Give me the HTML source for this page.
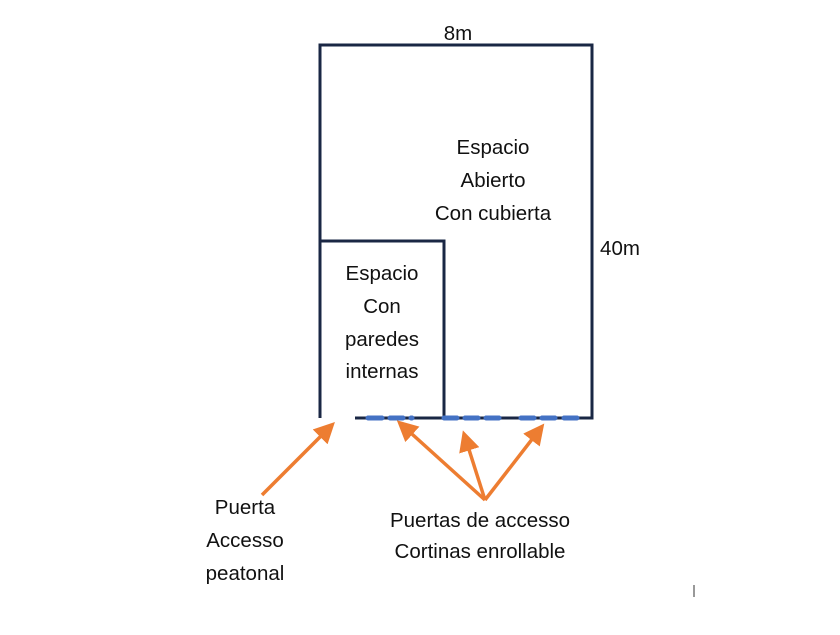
<!DOCTYPE html>
<html><head><style>body{margin:0;background:#fff}svg text{font-family:"Liberation Sans",sans-serif;font-size:20.5px;fill:#111;text-anchor:middle}</style></head>
<body>
<svg width="840" height="630" viewBox="0 0 840 630" xmlns="http://www.w3.org/2000/svg">
<defs><marker id="a" markerWidth="6" markerHeight="6" refX="4" refY="3" orient="auto" markerUnits="strokeWidth"><path d="M0,0 L6,3 L0,6 Z" fill="#ed7d31"/></marker></defs>
<g stroke="#1a2744" stroke-width="3" fill="none">
<polyline points="320,418 320,45 592,45 592,418 355,418"/>
<polyline points="320,241 444,241 444,418"/>
</g>
<g stroke="#4472c4" stroke-width="5" stroke-linecap="round">
<line x1="368" y1="418" x2="382" y2="418"/><line x1="390" y1="418" x2="403" y2="418"/><line x1="411" y1="418" x2="412" y2="418"/>
<line x1="444" y1="418" x2="457" y2="418"/><line x1="465" y1="418" x2="478" y2="418"/><line x1="486" y1="418" x2="499" y2="418"/>
<line x1="521" y1="418" x2="534" y2="418"/><line x1="542" y1="418" x2="555" y2="418"/><line x1="564" y1="418" x2="577" y2="418"/>
</g>
<g stroke="#ed7d31" stroke-width="3.5" marker-end="url(#a)">
<line x1="262" y1="495" x2="330" y2="427"/>
<line x1="485" y1="500" x2="402" y2="425"/>
<line x1="485" y1="500" x2="465" y2="437"/>
<line x1="485" y1="500" x2="540" y2="429"/>
</g>
<text x="458" y="40">8m</text>
<text x="620" y="255">40m</text>
<text x="493" y="154">Espacio</text>
<text x="493" y="187">Abierto</text>
<text x="493" y="220">Con cubierta</text>
<text x="382" y="280">Espacio</text>
<text x="382" y="313">Con</text>
<text x="382" y="346">paredes</text>
<text x="382" y="378">internas</text>
<text x="245" y="514">Puerta</text>
<text x="245" y="547">Accesso</text>
<text x="245" y="580">peatonal</text>
<text x="480" y="527">Puertas de accesso</text>
<text x="480" y="558">Cortinas enrollable</text>
<line x1="694" y1="585" x2="694" y2="597" stroke="#333" stroke-width="1"/>
</svg>
</body></html>
